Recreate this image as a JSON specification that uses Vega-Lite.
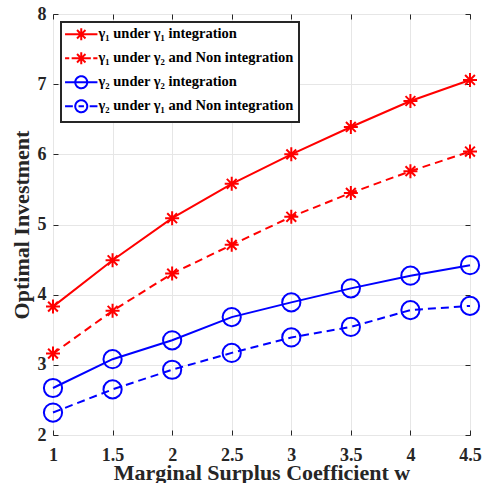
{
  "$schema": "https://vega.github.io/schema/vega-lite/v6.json",
  "autosize": "none",
  "width": 417,
  "height": 421,
  "padding": {"left": 53, "top": 14, "right": 14, "bottom": 48},
  "background": "white",
  "config": {
    "view": {"stroke": "#262626", "strokeWidth": 1},
    "font": "Liberation Serif",
    "axis": {
      "labelFont": "Liberation Serif", "labelFontWeight": "bold", "labelFontSize": 18, "labelColor": "#262626",
      "titleFont": "Liberation Serif", "titleFontWeight": "bold", "titleFontSize": 22, "titleColor": "#262626",
      "gridColor": "#e6e6e6", "gridWidth": 1, "domain": false,
      "tickColor": "#262626", "tickSize": -5, "tickWidth": 1
    }
  },
  "data": {"values": [
    {"w": 1, "series": "γ₁ under γ₁ integration", "v": 3.83},
    {"w": 1.5, "series": "γ₁ under γ₁ integration", "v": 4.49},
    {"w": 2, "series": "γ₁ under γ₁ integration", "v": 5.09},
    {"w": 2.5, "series": "γ₁ under γ₁ integration", "v": 5.58},
    {"w": 3, "series": "γ₁ under γ₁ integration", "v": 6.0},
    {"w": 3.5, "series": "γ₁ under γ₁ integration", "v": 6.39},
    {"w": 4, "series": "γ₁ under γ₁ integration", "v": 6.76},
    {"w": 4.5, "series": "γ₁ under γ₁ integration", "v": 7.06},
    {"w": 1, "series": "γ₁ under γ₂ and Non integration", "v": 3.16},
    {"w": 1.5, "series": "γ₁ under γ₂ and Non integration", "v": 3.77},
    {"w": 2, "series": "γ₁ under γ₂ and Non integration", "v": 4.30},
    {"w": 2.5, "series": "γ₁ under γ₂ and Non integration", "v": 4.71},
    {"w": 3, "series": "γ₁ under γ₂ and Non integration", "v": 5.11},
    {"w": 3.5, "series": "γ₁ under γ₂ and Non integration", "v": 5.45},
    {"w": 4, "series": "γ₁ under γ₂ and Non integration", "v": 5.76},
    {"w": 4.5, "series": "γ₁ under γ₂ and Non integration", "v": 6.04},
    {"w": 1, "series": "γ₂ under γ₂ integration", "v": 2.67},
    {"w": 1.5, "series": "γ₂ under γ₂ integration", "v": 3.08},
    {"w": 2, "series": "γ₂ under γ₂ integration", "v": 3.35},
    {"w": 2.5, "series": "γ₂ under γ₂ integration", "v": 3.68},
    {"w": 3, "series": "γ₂ under γ₂ integration", "v": 3.89},
    {"w": 3.5, "series": "γ₂ under γ₂ integration", "v": 4.09},
    {"w": 4, "series": "γ₂ under γ₂ integration", "v": 4.27},
    {"w": 4.5, "series": "γ₂ under γ₂ integration", "v": 4.42},
    {"w": 1, "series": "γ₂ under γ₁ and Non integration", "v": 2.32},
    {"w": 1.5, "series": "γ₂ under γ₁ and Non integration", "v": 2.65},
    {"w": 2, "series": "γ₂ under γ₁ and Non integration", "v": 2.93},
    {"w": 2.5, "series": "γ₂ under γ₁ and Non integration", "v": 3.17},
    {"w": 3, "series": "γ₂ under γ₁ and Non integration", "v": 3.39},
    {"w": 3.5, "series": "γ₂ under γ₁ and Non integration", "v": 3.54},
    {"w": 4, "series": "γ₂ under γ₁ and Non integration", "v": 3.78},
    {"w": 4.5, "series": "γ₂ under γ₁ and Non integration", "v": 3.84}
  ]},
  "encoding": {
    "x": {"field": "w", "type": "quantitative", "title": "Marginal Surplus Coefficient w",
      "scale": {"domain": [1, 4.5], "nice": false, "zero": false},
      "axis": {"values": [1, 1.5, 2, 2.5, 3, 3.5, 4, 4.5], "format": "~g", "labelPadding": 16, "titlePadding": -2, "labelFlush": false}},
    "y": {"field": "v", "type": "quantitative", "title": "Optimal Investment",
      "scale": {"domain": [2, 8], "nice": false, "zero": false},
      "axis": {"values": [2, 3, 4, 5, 6, 7, 8], "format": "~g", "labelPadding": 12, "titlePadding": 4, "labelFlush": false}},
    "color": {"field": "series", "type": "nominal",
      "scale": {"domain": ["γ₁ under γ₁ integration", "γ₁ under γ₂ and Non integration", "γ₂ under γ₂ integration", "γ₂ under γ₁ and Non integration"],
                "range": ["#ff0000", "#ff0000", "#0000ff", "#0000ff"]},
      "legend": {
        "title": null, "orient": "top-left", "offset": 8,
        "strokeColor": "#262626", "fillColor": "white",
        "padding": 5, "labelFont": "Liberation Serif", "labelFontWeight": "bold", "labelFontSize": 14.5, "labelColor": "#000000",
        "symbolSize": 144, "symbolStrokeWidth": 2, "labelOffset": 10, "rowPadding": 3, "symbolOffset": 8,
        "labelLimit": 400,
        "encode": {
          "legend": {"update": {"strokeWidth": {"value": 2}}},
          "symbols": {"update": {
            "shape": {"signal": "datum.value === 'γ₁ under γ₁ integration' ? 'M-2.7,0L2.7,0M0,-1L0,1M-0.7,-0.7L0.7,0.7M-0.7,0.7L0.7,-0.7' : datum.value === 'γ₁ under γ₂ and Non integration' ? 'M-2.7,0L-2.0,0M-1.6,0L1.6,0M2.0,0L2.7,0M0,-1L0,1M-0.7,-0.7L0.7,0.7M-0.7,0.7L0.7,-0.7' : datum.value === 'γ₂ under γ₂ integration' ? 'M-2.7,0L2.7,0M1,0A1,1 0 1,1 -1,0A1,1 0 1,1 1,0' : 'M-2.7,0L-1.4,0M-0.45,0L0.45,0M1.4,0L2.7,0M1,0A1,1 0 1,1 -1,0A1,1 0 1,1 1,0'"},
            "size": {"value": 144},
            "fill": {"value": "transparent"},
            "strokeWidth": {"value": 2},
            "strokeDash": {"value": [1, 0]}
          }}
        }
      }
    }
  },
  "layer": [
    {
      "layer": [
        {
          "transform": [{"filter": "indexof(datum.series, 'Non') < 0"}],
          "mark": {"type": "line", "strokeWidth": 2}
        },
        {
          "transform": [{"filter": "indexof(datum.series, 'Non') >= 0"}],
          "mark": {"type": "line", "strokeWidth": 2, "strokeDash": [8, 5]}
        },
        {
          "transform": [{"filter": "indexof(datum.series, 'γ₁ under') === 0"}],
          "mark": {"type": "point", "filled": false, "strokeWidth": 2, "size": 196, "opacity": 1,
                   "shape": "M-1,0L1,0M0,-1L0,1M-0.7,-0.7L0.7,0.7M-0.7,0.7L0.7,-0.7"}
        },
        {
          "transform": [{"filter": "indexof(datum.series, 'γ₂ under') === 0"}],
          "mark": {"type": "point", "filled": false, "strokeWidth": 2, "size": 196, "opacity": 1,
                   "shape": "M1.3,0A1.3,1.3 0 1,1 -1.3,0A1.3,1.3 0 1,1 1.3,0"}
        }
      ]
    },
    {
      "mark": {"type": "point", "opacity": 0},
      "encoding": {
        "x": {"field": "w", "type": "quantitative",
          "axis": {"orient": "top", "values": [1, 1.5, 2, 2.5, 3, 3.5, 4, 4.5], "labels": false, "title": null, "grid": false}},
        "y": {"field": "v", "type": "quantitative",
          "axis": {"orient": "right", "values": [2, 3, 4, 5, 6, 7, 8], "labels": false, "title": null, "grid": false}},
        "color": {"value": "transparent"}
      }
    }
  ],
  "resolve": {"axis": {"x": "independent", "y": "independent"}}
}
